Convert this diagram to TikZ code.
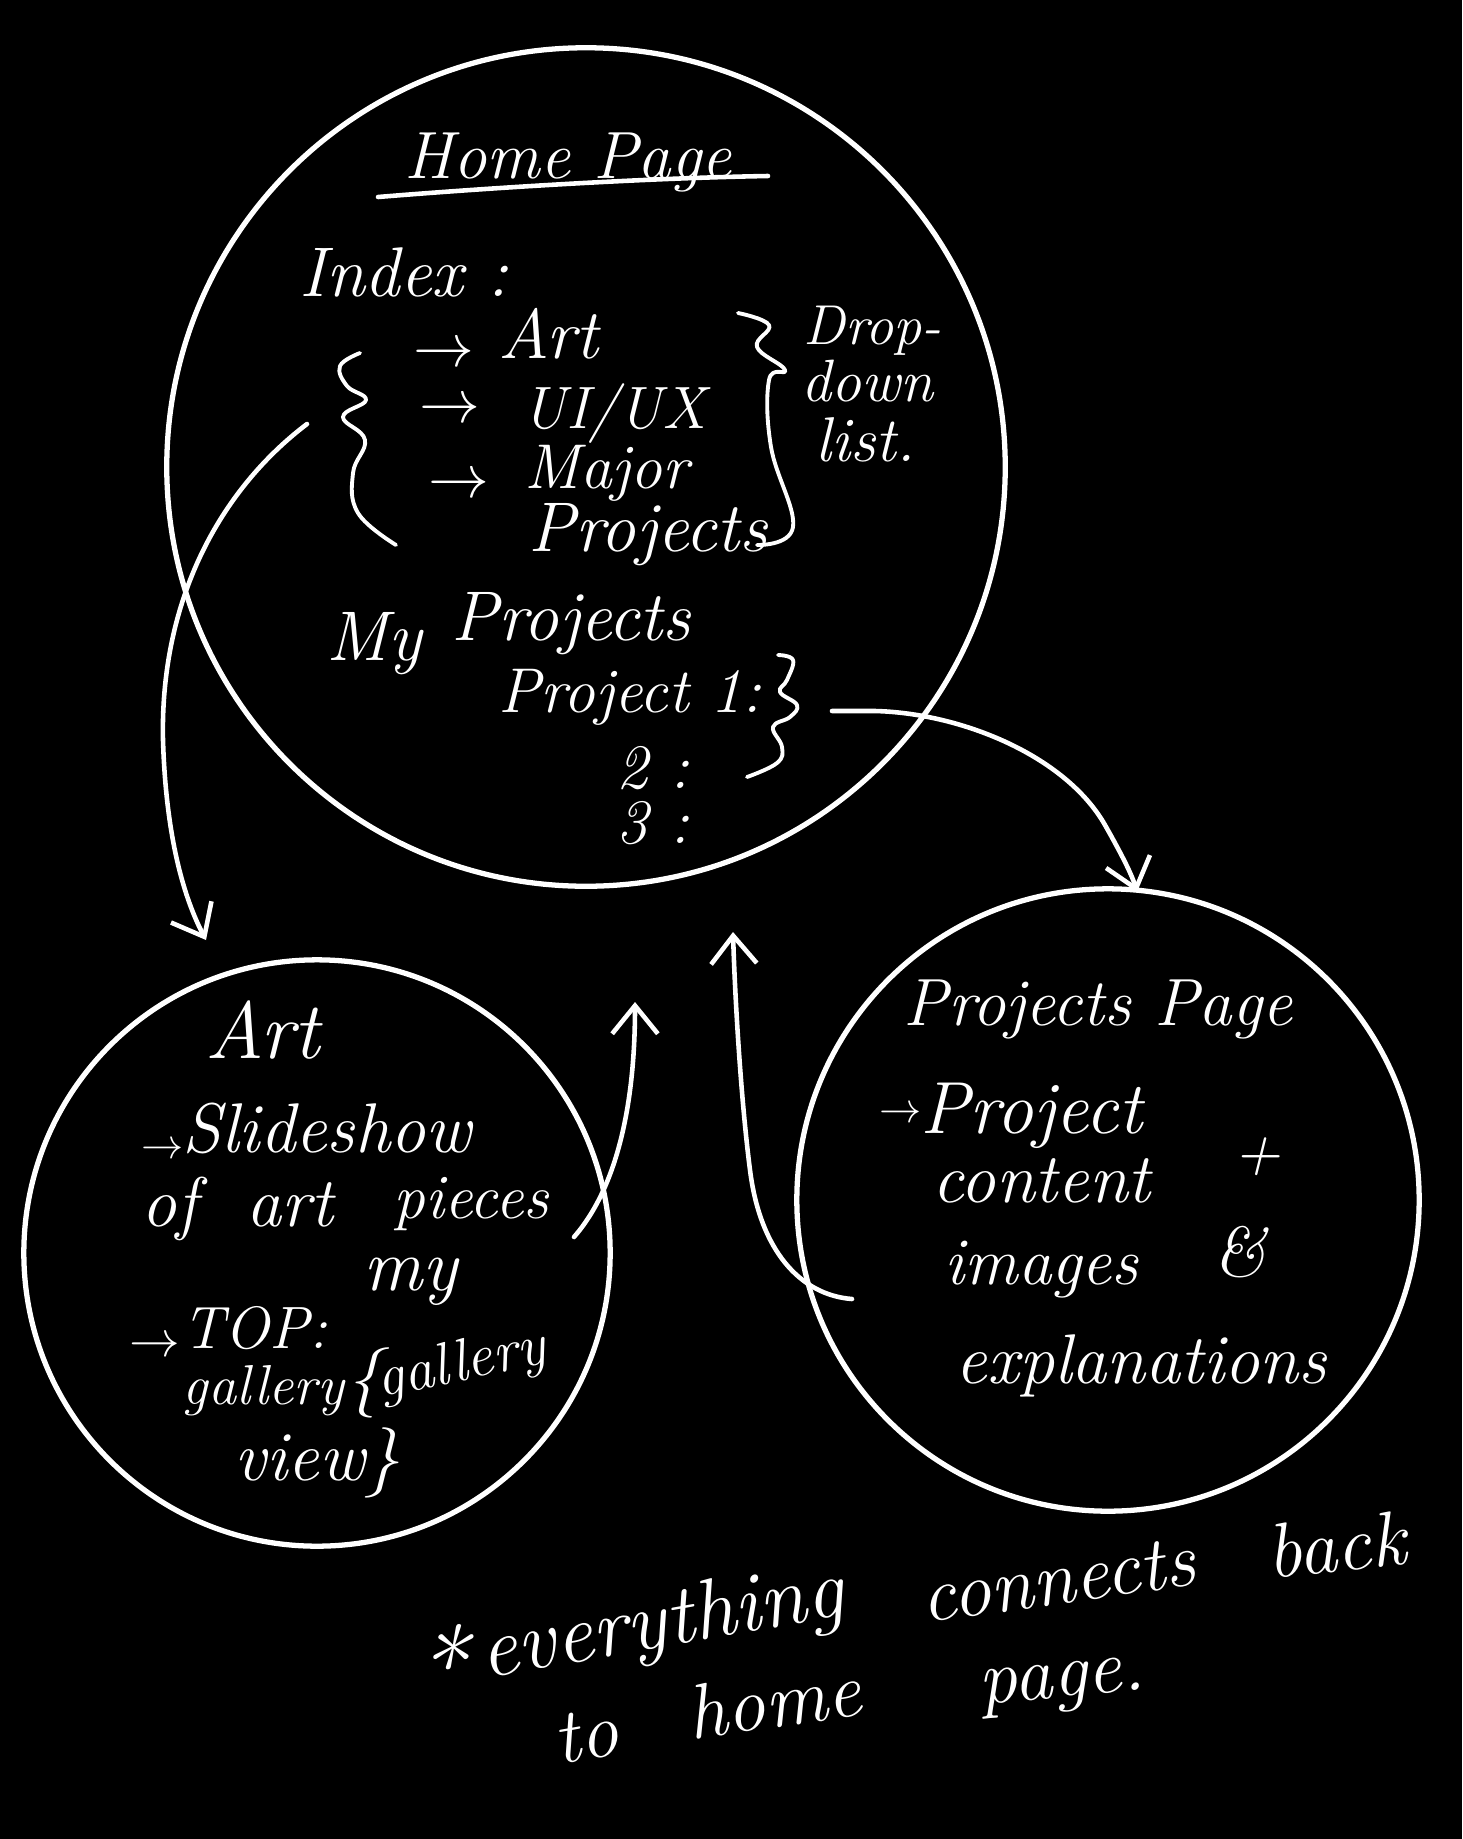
\documentclass[tikz,border=0pt]{standalone}
\usepackage{fontspec}
\usetikzlibrary{arrows.meta}
\newcommand{\hsz}[1]{\fontsize{#1}{#1}\selectfont\itshape}
\tikzset{
  pagecircle/.style={draw=white, line width=1.5pt, circle, inner sep=0pt},
  conn/.style={draw=white, line width=1.3pt, line cap=round, line join=round,
               -{Straight Barb[length=8pt,width=13pt]}},
  hand/.style={text=white, inner sep=0pt, anchor=base west},
  tilted/.style={text=white, inner sep=0pt, anchor=center},
  pen/.style={draw=white, line width=1.1pt, line cap=round, line join=round}
}
\begin{document}
\begin{tikzpicture}[x=0.01cm, y=-0.01cm]
\useasboundingbox (0,0) rectangle (1462,1839);
\fill[black] (0,0) rectangle (1462,1839);

% page circles
\node[pagecircle, minimum size=8.38cm] (home) at (586,467) {};
\node[pagecircle, minimum size=5.86cm] (art) at (317,1253) {};
\node[pagecircle, minimum size=6.22cm] (proj) at (1108,1200) {};

% ---------- Home page ----------
\node[hand, font={\hsz{19}}] (hometitle) at (404,178) {Home Page};
\draw[pen, line width=1.3pt] (378,197) .. controls (500,187) and (650,178) .. (768,176);
\node[hand, font={\hsz{20}}] (index) at (299,296) {Index :};

\draw[pen] plot[smooth, tension=0.7] coordinates
  {(360,353) (340,366) (347,386) (366,400) (343,417) (365,440) (353,473) (358,513) (396,545)};

\node[hand, font={\hsz{16}}] (ar1) at (413,366) {$\rightarrow$};
\node[hand, font={\hsz{20}}] (iart) at (498,358) {Art};
\node[hand, font={\hsz{16}}] (ar2) at (419,422) {$\rightarrow$};
\node[hand, font={\hsz{17}}] (iux) at (522,428) {UI/UX};
\node[hand, font={\hsz{16}}] (ar3) at (428,497) {$\rightarrow$};
\node[hand, font={\hsz{18}}] (imaj) at (524,488) {Major};
\node[hand, font={\hsz{20}}] (iproj) at (528,551) {Projects};

\draw[pen] plot[smooth, tension=0.7] coordinates
  {(738,313) (769,325) (757,347) (785,370) (769,380) (771,447) (793,527) (757,545)};
\node[hand, font={\hsz{16}}] (drop) at (803,344) {Drop-};
\node[hand, font={\hsz{17}}] (down) at (801,401) {down};
\node[hand, font={\hsz{18}}] (list) at (815,461) {list.};

\node[hand, font={\hsz{20}}] (my) at (326,660) {My};
\node[hand, font={\hsz{20}}] (myproj) at (451,640) {Projects};
\node[hand, font={\hsz{18}}] (p1) at (498,712) {Project 1:};
\node[hand, font={\hsz{18}}] (p2) at (616,788) {2 :};
\node[hand, font={\hsz{18}}] (p3) at (616,843) {3 :};
\draw[pen] plot[smooth, tension=0.7] coordinates
  {(778,655) (793,660) (787,680) (780,692) (797,705) (790,717) (773,727) (782,747) (777,763) (747,777)};

% ---------- Art page ----------
\node[hand, font={\hsz{23}}] (arttitle) at (205,1058) {Art};
\node[hand, font={\hsz{13}}] (ar4) at (141,1158) {$\rightarrow$};
\node[hand, font={\hsz{20}}] (slide) at (182,1152) {Slideshow};
\node[hand, font={\hsz{20}}] (of) at (141,1226) {of};
\node[hand, font={\hsz{20}}] (artw) at (246,1226) {art};
\node[hand, font={\hsz{18}}] (pieces) at (393,1218) {pieces};
\node[hand, font={\hsz{14}}] (ar5) at (129,1356) {$\rightarrow$};
\node[hand, font={\hsz{17}}] (top) at (182,1348) {TOP:};
\node[hand, font={\hsz{21}}] (myw) at (363,1290) {my};
\node[hand, font={\hsz{16}}] (gal1) at (182,1404) {gallery};
\node[hand, font={\hsz{20}}] (lbr) at (346,1400) {\{};
\node[hand, font={\hsz{17}}, rotate=12] (gal2) at (380,1398) {gallery};
\node[hand, font={\hsz{20}}] (view) at (234,1480) {view\}};

% ---------- Projects page ----------
\node[hand, font={\hsz{19}}] (projtitle) at (903,1025) {Projects Page};
\node[hand, font={\hsz{13}}] (ar6) at (879,1122) {$\rightarrow$};
\node[hand, font={\hsz{21}}] (pproj) at (920,1133) {Project};
\node[hand, font={\hsz{20}}] (content) at (932,1202) {content};
\node[tilted, font={\hsz{18}}] (plus) at (1257,1157) {+};
\node[hand, font={\hsz{19}}] (images) at (944,1284) {images};
\node[tilted, font={\hsz{20}}] (amp) at (1240,1252) {\&};
\node[hand, font={\hsz{20}}] (expl) at (955,1383) {explanations};

% ---------- note ----------
\node[tilted, font={\hsz{30}}] (star) at (440,1664) {*};
\node[tilted, font={\hsz{24}}, rotate=10] (every) at (662,1626) {everything};
\node[tilted, font={\hsz{22}}, rotate=8] (conns) at (1058,1580) {connects};
\node[tilted, font={\hsz{22}}, rotate=6] (back) at (1336,1545) {back};
\node[tilted, font={\hsz{22}}, rotate=10] (to) at (586,1736) {to};
\node[tilted, font={\hsz{22}}, rotate=8] (homew) at (774,1701) {home};
\node[tilted, font={\hsz{22}}, rotate=5] (pagew) at (1063,1688) {page.};

% ---------- connectors ----------
\coordinate (a1s) at (307,424);
\coordinate (a1e) at (206,940);
\draw[conn] (a1s) .. controls (220,490) and (160,600) .. (163,740)
                  .. controls (166,840) and (185,900) .. (a1e);

\coordinate (a2s) at (832,711);
\coordinate (a2e) at (1137,892);
\draw[conn] (a2s) -- (875,711) .. controls (960,713) and (1065,755) .. (1105,825)
                  .. controls (1122,855) and (1132,875) .. (a2e);

\coordinate (a3s) at (574,1237);
\coordinate (a3e) at (635,1002);
\draw[conn] (a3s) .. controls (615,1190) and (635,1110) .. (a3e);

\coordinate (a4s) at (852,1299);
\coordinate (a4e) at (733,932);
\draw[conn] (a4s) .. controls (800,1295) and (760,1250) .. (750,1170)
                  .. controls (741,1100) and (735,1000) .. (a4e);
\end{tikzpicture}
\end{document}
